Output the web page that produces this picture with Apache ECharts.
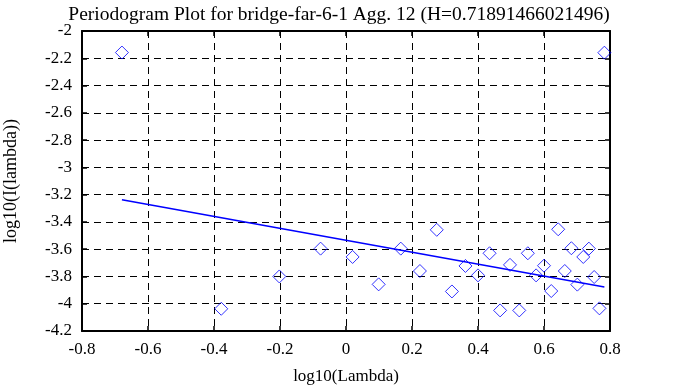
<!DOCTYPE html>
<html><head><meta charset="utf-8">
<script src="https://cdn.jsdelivr.net/npm/echarts@6/dist/echarts.min.js"></script>
<style>html,body{margin:0;padding:0;background:#fff}#c{width:673px;height:387px}</style>
</head><body><div id="c"></div>
<script>
var titleText = "Periodogram Plot for bridge-far-6-1 Agg. 12 (H=0.71891466021496)";
var xName = "log10(Lambda)";
var yName = "log10(I(lambda))";
var logLambda = [-0.679,-0.378,-0.202,-0.077,0.020,0.099,0.166,0.224,0.275,0.321,0.362,0.400,0.435,0.467,0.497,0.525,0.551,0.576,0.600,0.622,0.643,0.663,0.683,0.701,0.719,0.736,0.752,0.768,0.783];
var logI = [-2.158,-4.037,-3.800,-3.596,-3.657,-3.858,-3.596,-3.760,-3.458,-3.910,-3.723,-3.792,-3.630,-4.049,-3.715,-4.049,-3.630,-3.792,-3.721,-3.907,-3.454,-3.760,-3.593,-3.860,-3.657,-3.596,-3.804,-4.034,-2.159];
var fitX = [-0.679, 0.783];
var fitY = [-3.237, -3.877];

var pts = logLambda.map(function(x,i){return [x, logI[i]];});
var fit = fitX.map(function(x,i){return [x, fitY[i]];});
var font = "'Liberation Serif','Times New Roman',serif";
function fmt(v){ return String(parseFloat(v.toFixed(1))); }
var chart = echarts.init(document.getElementById('c'));
chart.setOption({
  animation:false,
  backgroundColor:'#fff',
  title:{text:titleText,left:334,textAlign:'center',top:0,textStyle:{fontFamily:font,fontSize:19.5,fontWeight:'normal',color:'#000'}},
  grid:{left:82,right:63,top:31,bottom:56,containLabel:false,outerBoundsMode:'none'},
  xAxis:[{type:'value',min:-0.8,max:0.8,interval:0.2,name:xName,nameLocation:'middle',nameGap:37,
    nameTextStyle:{fontFamily:font,fontSize:17,color:'#000'},
    axisLine:{onZero:false,lineStyle:{color:'#000',width:2}},
    axisTick:{inside:true,length:5,lineStyle:{color:'#000',width:1.5}},
    axisLabel:{formatter:fmt,fontFamily:font,fontSize:17,color:'#000',margin:10},
    splitLine:{show:true,lineStyle:{color:'#000',type:[7,5],width:1}}},
   {type:'value',position:'top',min:-0.8,max:0.8,interval:0.2,
    axisLine:{onZero:false,lineStyle:{color:'#000',width:2}},
    axisTick:{inside:true,length:5,lineStyle:{color:'#000',width:1.5}},
    axisLabel:{show:false},splitLine:{show:false}}],
  yAxis:[{type:'value',min:-4.2,max:-2,interval:0.2,name:yName,nameLocation:'middle',nameGap:62,nameRotate:90,
    nameTextStyle:{fontFamily:font,fontSize:18,color:'#000'},
    axisLine:{onZero:false,lineStyle:{color:'#000',width:2}},
    axisTick:{inside:true,length:5,lineStyle:{color:'#000',width:1.5}},
    axisLabel:{formatter:fmt,fontFamily:font,fontSize:17,color:'#000',margin:10},
    splitLine:{show:true,lineStyle:{color:'#000',type:[7,5],width:1}}},
   {type:'value',position:'right',min:-4.2,max:-2,interval:0.2,
    axisLine:{onZero:false,lineStyle:{color:'#000',width:2}},
    axisTick:{inside:true,length:5,lineStyle:{color:'#000',width:1.5}},
    axisLabel:{show:false},splitLine:{show:false}}],
  series:[
    {type:'scatter',data:pts,symbol:'diamond',symbolSize:13,
     itemStyle:{color:'rgba(0,0,0,0)',borderColor:'#0000ff',borderWidth:1}},
    {type:'line',data:fit,symbol:'none',lineStyle:{color:'#0000ff',width:1.5},z:3}
  ]
});
</script></body></html>
